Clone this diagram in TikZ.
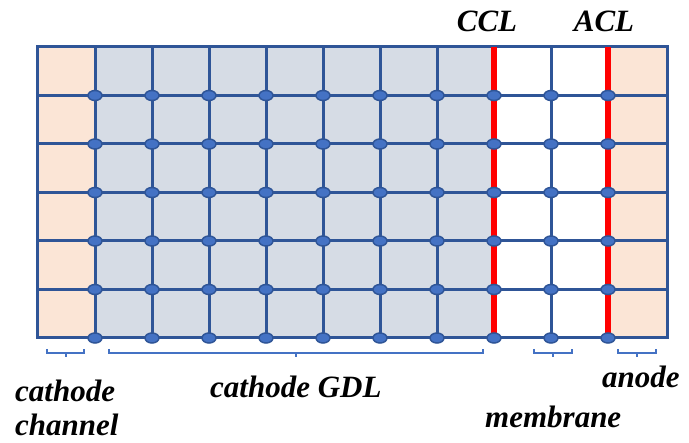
\documentclass[tikz,border=0pt]{standalone}
\usepackage{fontspec}
\setmainfont{Liberation Serif}
\usetikzlibrary{shapes.geometric}
\definecolor{gridblue}{HTML}{2F5597}
\definecolor{dotblue}{HTML}{4472C4}
\definecolor{peach}{HTML}{FBE5D6}
\definecolor{gdlgrey}{HTML}{D6DCE5}
\definecolor{cllred}{HTML}{FF0000}
\begin{document}
\begin{tikzpicture}[x=1pt,y=-1pt,
  gridline/.style={draw=gridblue, line width=3pt},
  cllline/.style={draw=cllred, line width=5.5pt},
  nodedot/.style={ellipse, draw=gridblue, fill=dotblue, line width=1.5pt,
    minimum width=14pt, minimum height=10pt, inner sep=0pt},
  bracket/.style={draw=dotblue, line width=1.2pt},
  lbl/.style={font=\fontsize{31}{36}\selectfont\bfseries\itshape, inner sep=0pt, text depth=0pt}]
\useasboundingbox (0,0) rectangle (689,443);
% region fills
\fill[peach] (37,47) rectangle (95,338);
\fill[peach] (608,47) rectangle (667,338);
\fill[gdlgrey] (95,47) rectangle (494,338);
% mesh lines
\foreach \x in {95,152,...,608}
  \draw[gridline] (\x,47) -- (\x,338);
\foreach \y in {95.5,144,192.5,241,289.5}
  \draw[gridline] (37,\y) -- (667,\y);
\draw[gridline] (37,47) rectangle (667,338);
% catalyst layers
\draw[cllline] (494,47) -- (494,338);
\draw[cllline] (608,47) -- (608,338);
% mesh nodes
\foreach \x [count=\i] in {95,152,...,608}
  \foreach \y [count=\j] in {95.5,144,192.5,241,289.5,338}
    \node[nodedot] (n-\i-\j) at (\x,\y) {};
% brackets under the regions
\draw[bracket] (47,349) -- (47,353) -- (84,353) -- (84,349);
\draw[bracket] (66,353) -- (66,357);
\draw[bracket] (109,349) -- (109,353) -- (483,353) -- (483,349);
\draw[bracket] (296,353) -- (296,357);
\draw[bracket] (534,349) -- (534,353) -- (572,353) -- (572,349);
\draw[bracket] (553,353) -- (553,357);
\draw[bracket] (618,349) -- (618,353) -- (656,353) -- (656,349);
\draw[bracket] (637,353) -- (637,357);
% labels
\node[lbl, anchor=base] (ccl) at (487,32) {CCL};
\node[lbl, anchor=base] (acl) at (604,32) {ACL};
\node[lbl, anchor=base west] (chan1) at (15,402) {cathode};
\node[lbl, anchor=base west] (chan2) at (15,436) {channel};
\node[lbl, anchor=base west] (gdl) at (210,398) {cathode GDL};
\node[lbl, anchor=base west] (anode) at (602,388) {anode};
\node[lbl, anchor=base west] (memb) at (485,428) {membrane};
\end{tikzpicture}
\end{document}
